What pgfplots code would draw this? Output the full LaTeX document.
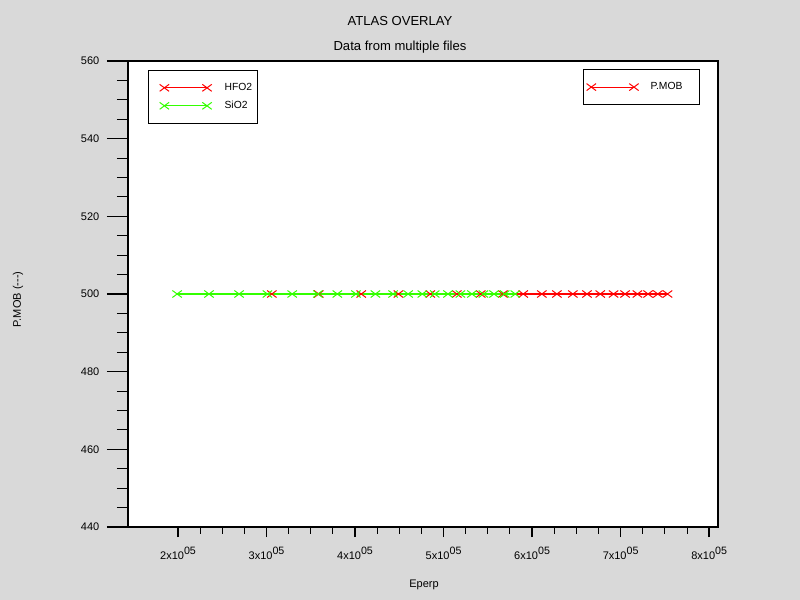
\documentclass[border=0pt]{standalone}
\usepackage{pgfplots}
\pgfplotsset{compat=1.18}
\usepackage{fontspec}
\setmainfont{Liberation Sans}

\definecolor{bg}{RGB}{217,217,217}
\definecolor{hfred}{RGB}{255,0,0}
\definecolor{sigreen}{RGB}{51,255,0}

\newcommand{\lbl}{\fontsize{8.25}{10}\selectfont}
\newcommand{\leg}{\fontsize{7.75}{9.5}\selectfont}
\newcommand{\sx}[1]{#1x10\raisebox{3.5pt}{\fontsize{8}{9}\selectfont 05}}

\begin{document}
\begin{tikzpicture}
\fill[bg] (0pt,0pt) rectangle (600pt,450pt);
\useasboundingbox (0pt,0pt) rectangle (600pt,450pt);

\node[font=\fontsize{9.8}{12}\selectfont] at (300pt,434.5pt) {ATLAS OVERLAY};
\node[font=\fontsize{9.8}{12}\selectfont] at (300pt,414.5pt) {Data from multiple files};
\node[font=\lbl, rotate=90] at (13.5pt,225.5pt) {P.MOB (-{}-{}-)};
\node[font=\lbl] at (318pt,11pt) {Eperp};

% data axis with x ticks
\begin{axis}[
  at={(96pt,54.75pt)}, anchor=south west,
  scale only axis, width=442.5pt, height=349.5pt,
  xmin=1.435e5, xmax=8.1e5,
  ymin=440, ymax=560,
  axis background/.style={fill=white},
  axis line style={line width=0.9pt},
  xtick={2e5,3e5,4e5,5e5,6e5,7e5,8e5},
  xticklabels={\sx{2},\sx{3},\sx{4},\sx{5},\sx{6},\sx{7},\sx{8}},
  minor x tick num=3,
  ytick=\empty,
  xtick pos=bottom,
  tick align=outside,
  major tick length=7.5pt,
  minor tick length=5pt,
  every major tick/.append style={line width=1.2pt, black},
  every minor tick/.append style={line width=0.75pt, black},
  x tick label style={font=\lbl, yshift=-4pt},
  scaled x ticks=false,
  legend style={at={(0.0339,0.9807)}, anchor=north west, draw=black, line width=0.75pt,
    font=\leg, inner xsep=2pt, inner ysep=6.25pt, row sep=0pt,
    nodes={inner ysep=0pt, minimum height=13.5pt}},
  legend cell align=left,
  legend image code/.code={\path (-9.5pt,0pt) (42.75pt,0pt);
    \draw[#1] plot coordinates {(0pt,0pt) (32pt,0pt)};},
]
\addplot[hfred, line width=0.8pt, mark=x, mark size=3.7pt,
  mark options={solid, line width=0.75pt, xscale=1.35}] coordinates {
(3.06e5,500) (3.59e5,500) (4.07e5,500) (4.49e5,500) (4.85e5,500)
(5.15e5,500) (5.42e5,500) (5.67e5,500) (5.90e5,500) (6.11e5,500)
(6.28e5,500) (6.46e5,500) (6.62e5,500) (6.77e5,500) (6.92e5,500)
(7.05e5,500) (7.19e5,500) (7.31e5,500) (7.42e5,500) (7.53e5,500)
};
\addlegendentry{\makebox[21pt][l]{HFO2}}
\addplot[sigreen, line width=0.8pt, mark=x, mark size=3.7pt,
  mark options={solid, line width=0.75pt, xscale=1.35}] coordinates {
(1.99e5,500) (2.35e5,500) (2.69e5,500) (3.01e5,500) (3.29e5,500)
(3.58e5,500) (3.80e5,500) (4.01e5,500) (4.23e5,500) (4.43e5,500)
(4.60e5,500) (4.76e5,500) (4.90e5,500) (5.05e5,500) (5.19e5,500)
(5.32e5,500) (5.45e5,500) (5.57e5,500) (5.69e5,500) (5.81e5,500)
};
\addlegendentry{\makebox[21pt][l]{SiO2}}
\end{axis}

% second axis: y ticks and the P.MOB legend
\begin{axis}[
  at={(96pt,54.75pt)}, anchor=south west,
  scale only axis, width=442.5pt, height=349.5pt,
  xmin=1.435e5, xmax=8.1e5,
  ymin=440, ymax=560,
  axis line style={line width=0.9pt},
  xtick=\empty,
  ytick={440,460,480,500,520,540,560},
  yticklabels={440,460,480,500,520,540,560},
  minor y tick num=3,
  ytick pos=left,
  tick align=outside,
  major tick length=15.75pt,
  minor tick length=8.25pt,
  every major tick/.append style={line width=1.2pt, black},
  every minor tick/.append style={line width=0.75pt, black},
  y tick label style={font=\lbl, xshift=-2.25pt},
  legend style={at={(0.9695,0.983)}, anchor=north east, draw=black, line width=0.75pt,
    font=\leg, inner xsep=2pt, inner ysep=6.5pt,
    nodes={inner ysep=0pt, minimum height=13.5pt}},
  legend cell align=left,
  legend image code/.code={\path (-3.25pt,0pt) (42pt,0pt);
    \draw[#1] plot coordinates {(0pt,0pt) (32pt,0pt)};},
]
\addlegendimage{hfred, line width=0.8pt, mark=x, mark size=3.7pt,
  mark options={solid, line width=0.75pt, xscale=1.35}}
\addlegendentry{\makebox[32.75pt][l]{P.MOB}}
\end{axis}
\end{tikzpicture}
\end{document}
